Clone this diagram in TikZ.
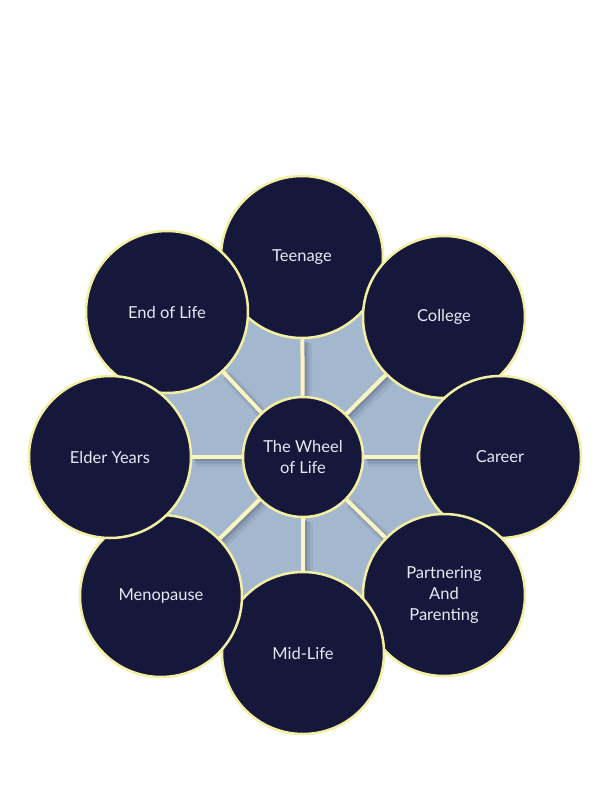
\documentclass[tikz,border=0pt]{standalone}
\usepackage{fontspec}
\setmainfont{Lato}
\usepackage{tikz}
\usetikzlibrary{backgrounds}
\usetikzlibrary{shapes.geometric}
\definecolor{navy}{HTML}{16183B}
\definecolor{rim}{HTML}{F3EFA2}
\definecolor{spokeyellow}{HTML}{FBF5C2}
\definecolor{paleblue}{HTML}{A3B8CE}
\definecolor{shadow}{HTML}{56657E}
\definecolor{ink}{HTML}{E8E8F2}
\tikzstyle{wheelpic}=[x=1pt, y=-1pt, font=\fontsize{16.5}{21}\selectfont]
\tikzstyle{stage}=[circle, draw=rim, line width=2.5pt, fill=navy, text=ink, minimum size=162pt, inner sep=0pt, align=center]
\tikzstyle{hub}=[stage, minimum size=120pt]
\tikzstyle{plate}=[regular polygon, regular polygon sides=8, minimum size=310pt, inner sep=0pt, fill=paleblue]
\tikzstyle{spoke}=[draw=spokeyellow, line width=4pt]
\tikzstyle{shade}=[draw=shadow, line cap=butt]
\newcommand{\hubX}{303}
\newcommand{\hubY}{457}

\begin{document}
\begin{tikzpicture}[wheelpic]
	\useasboundingbox (0,0) rectangle (612,792);
	\node[hub] (wheel) at (\hubX,\hubY) {The Wheel\\of Life};
	
	%order matters: each circle lies over the one before
	\node[stage] (teen) at (302,257) {Teenage};
	\node[stage] (endlife) at (167,312) {End of Life};
	\node[stage] (college) at (444,317) {College};
	\node[stage] (career) at (500,457) {Career};
	\node[stage] (partner) at (444,595) {Partnering\\And\\Parenting};
	\node[stage] (midlife) at (303,653) {Mid-Life};
	\node[stage] (meno) at (161,596) {Menopause};
	\node[stage] (elder) at (110,457) {Elder Years};
	
	%the blue plate behind the circles
	\begin{scope}[on background layer]
		\node[plate] (back) at (\hubX,\hubY) {};
		
		\foreach \s in {teen,college,career,partner,midlife,meno,elder,endlife} {
			\draw[shade, line width=11pt, opacity=0.12, transform canvas={shift={(4pt,-4pt)}}] (wheel) -- (\s);
			\draw[shade, line width=7pt, opacity=0.2, transform canvas={shift={(3pt,-3pt)}}] (wheel) -- (\s);
			\draw[shade, line width=4pt, opacity=0.3, transform canvas={shift={(2pt,-2pt)}}] (wheel) -- (\s);
			\draw[spoke] (wheel) -- (\s);
		}
	\end{scope}
\end{tikzpicture}
\end{document}
